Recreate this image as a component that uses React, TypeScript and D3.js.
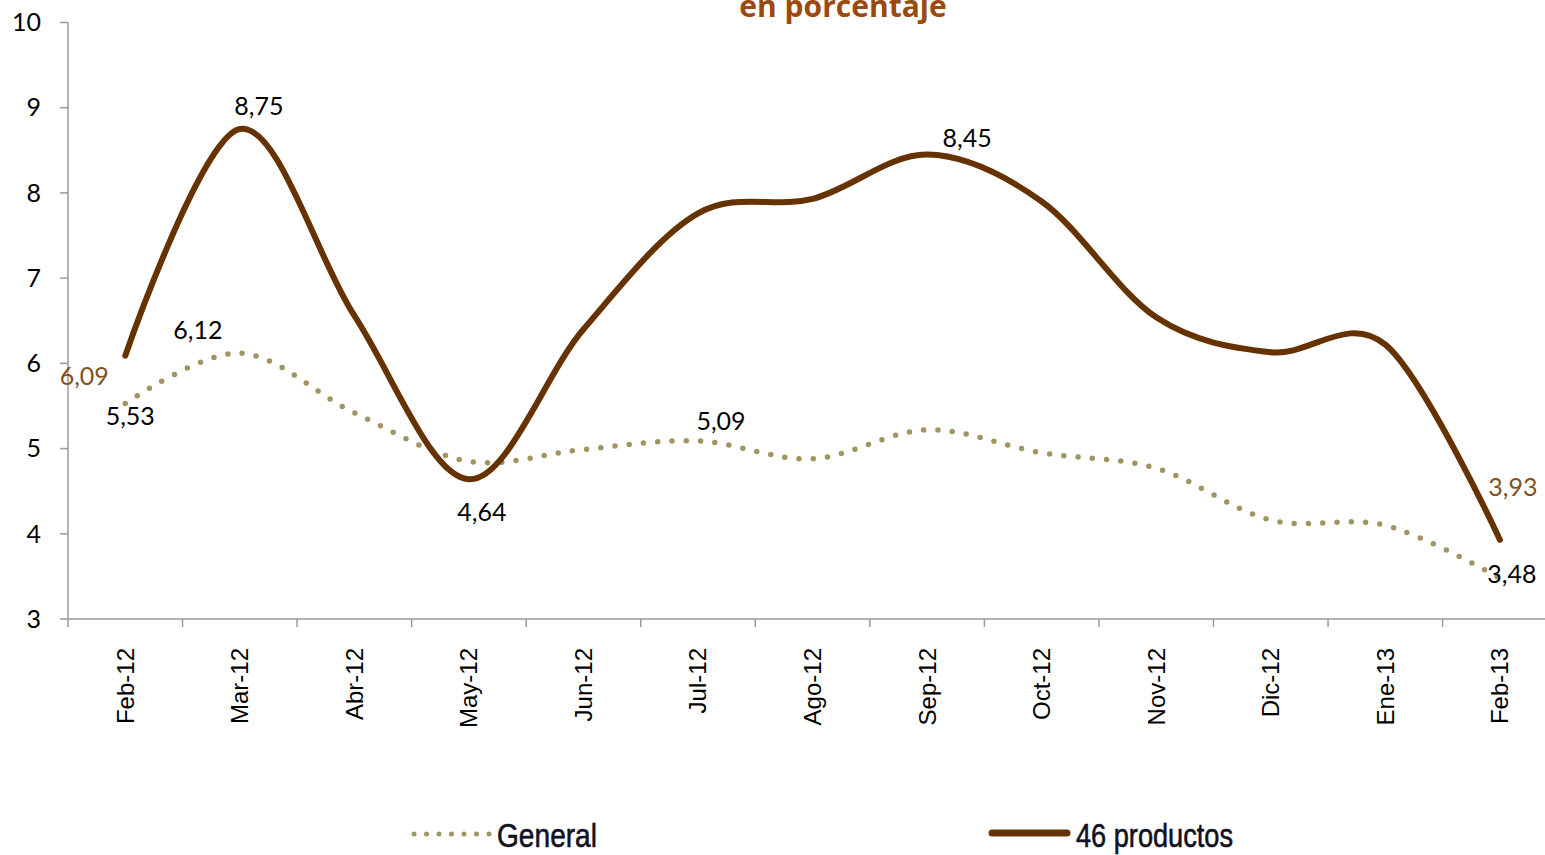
import React from "react";
import * as d3 from "d3";

const categories = ["Feb-12", "Mar-12", "Abr-12", "May-12", "Jun-12", "Jul-12", "Ago-12", "Sep-12", "Oct-12", "Nov-12", "Dic-12", "Ene-13", "Feb-13"];
const general = [5.53, 6.12, 5.42, 4.85, 4.99, 5.09, 4.88, 5.22, 4.95, 4.77, 4.16, 4.1, 3.48];
const productos46 = [6.09, 8.75, 6.56, 4.64, 6.4, 7.76, 7.93, 8.45, 7.9, 6.54, 6.13, 6.22, 3.93];
const yTicks = [3, 4, 5, 6, 7, 8, 9, 10];
const titleText = "en porcentaje";
const seriesNames = ["General", "46 productos"];

// data label placement: which point, and nudge from the point (label centre)
const dataLabels = [
  { series: 1, index: 0, dx: -41, dy: 21, brown: true },
  { series: 0, index: 0, dx: 5, dy: 13, brown: false },
  { series: 1, index: 1, dx: 19, dy: -23, brown: false },
  { series: 0, index: 1, dx: -42, dy: -23, brown: false },
  { series: 1, index: 3, dx: 13, dy: 33, brown: false },
  { series: 0, index: 5, dx: 23, dy: -20, brown: false },
  { series: 1, index: 7, dx: 40, dy: -16, brown: false },
  { series: 1, index: 12, dx: 13, dy: -53, brown: true },
  { series: 0, index: 12, dx: 12, dy: -4, brown: false },
];

const W = 1545;
const H = 855;
const BROWN = "#663300";
const OLIVE = "#a09460";
const LABEL_BROWN = "#85501f";
const AXIS = "#9a9a9a";
const FONT = "Lato, 'Open Sans', sans-serif";

export default function App() {
  const x = d3.scaleBand<string>().domain(categories).range([68, 68 + 13 * 114.55]);
  const xc = (c: string) => (x(c) as number) + x.bandwidth() / 2;
  const y = d3.scaleLinear().domain([3, 10]).range([619, 22.5]);

  const line = d3
    .line<number>()
    .x((_, i) => xc(categories[i]))
    .y((d) => y(d))
    .curve(d3.curveCardinal.tension(0));

  const series = [general, productos46];
  const fmt = (v: number) => v.toFixed(2).replace(".", ",");

  const tickXs = categories.map((c) => x(c) as number).concat([x.range()[1]]);

  return (
    <svg width={W} height={H} style={{ position: "absolute", left: 0, top: 0, background: "#fff" }}>
      <rect x={0} y={0} width={W} height={H} fill="#ffffff" />
      {/* title */}
      <text x={843} y={17} textAnchor="middle" fontFamily="'Open Sans', sans-serif" fontWeight={700} fontSize={30} fill="#9a4a0c">
        {titleText}
      </text>

      {/* y axis */}
      <line x1={68} x2={68} y1={y(10)} y2={y(3)} stroke={AXIS} strokeWidth={1.5} />
      {yTicks.map((t) => (
        <g key={t}>
          <line x1={60} x2={68} y1={y(t)} y2={y(t)} stroke={AXIS} strokeWidth={1.5} />
          <text x={41} y={y(t)} dy="0.35em" textAnchor="end" fontFamily={FONT} fontSize={25} fill="#000">
            {t}
          </text>
        </g>
      ))}

      {/* x axis */}
      <line x1={68} x2={W} y1={y(3)} y2={y(3)} stroke={AXIS} strokeWidth={1.5} />
      {tickXs.map((tx, i) => (
        <line key={i} x1={tx} x2={tx} y1={y(3)} y2={y(3) + 8} stroke={AXIS} strokeWidth={1.5} />
      ))}
      {categories.map((c) => (
        <text
          key={c}
          transform={`translate(${xc(c)},648) rotate(-90)`}
          textAnchor="end"
          dy="0.35em"
          fontFamily="'Liberation Sans', Arial, sans-serif"
          fontSize={24}
          fill="#000"
        >
          {c}
        </text>
      ))}

      {/* lines */}
      <path
        d={line(general) || ""}
        fill="none"
        stroke={OLIVE}
        strokeWidth={5.5}
        strokeDasharray="0 14.3"
        strokeLinecap="round"
      />
      <path d={line(productos46) || ""} fill="none" stroke={BROWN} strokeWidth={6} strokeLinecap="round" strokeLinejoin="round" />

      {/* data labels */}
      {dataLabels.map((l, i) => {
        const v = series[l.series][l.index];
        return (
          <text
            key={i}
            x={xc(categories[l.index]) + l.dx}
            y={y(v) + l.dy}
            dy="0.35em"
            textAnchor="middle"
            fontFamily={FONT}
            fontSize={25}
            fill={l.brown ? LABEL_BROWN : "#000"}
          >
            {fmt(v)}
          </text>
        );
      })}

      {/* legend */}
      <g>
        <line x1={414} x2={490} y1={834} y2={834} stroke={OLIVE} strokeWidth={5} strokeDasharray="0 12.5" strokeLinecap="round" />
        <text
          x={497}
          y={847}
          fontFamily="'Liberation Sans Narrow', 'Liberation Sans', sans-serif"
          fontSize={33}
          textLength={100}
          lengthAdjust="spacingAndGlyphs"
          fill="#111122"
          stroke="#111122"
          strokeWidth={0.6}
        >
          {seriesNames[0]}
        </text>
        <line x1={992} x2={1067} y1={833} y2={833} stroke={BROWN} strokeWidth={7} strokeLinecap="round" />
        <text
          x={1076}
          y={847}
          fontFamily="'Liberation Sans Narrow', 'Liberation Sans', sans-serif"
          fontSize={33}
          textLength={157}
          lengthAdjust="spacingAndGlyphs"
          fill="#111122"
          stroke="#111122"
          strokeWidth={0.6}
        >
          {seriesNames[1]}
        </text>
      </g>
    </svg>
  );
}
